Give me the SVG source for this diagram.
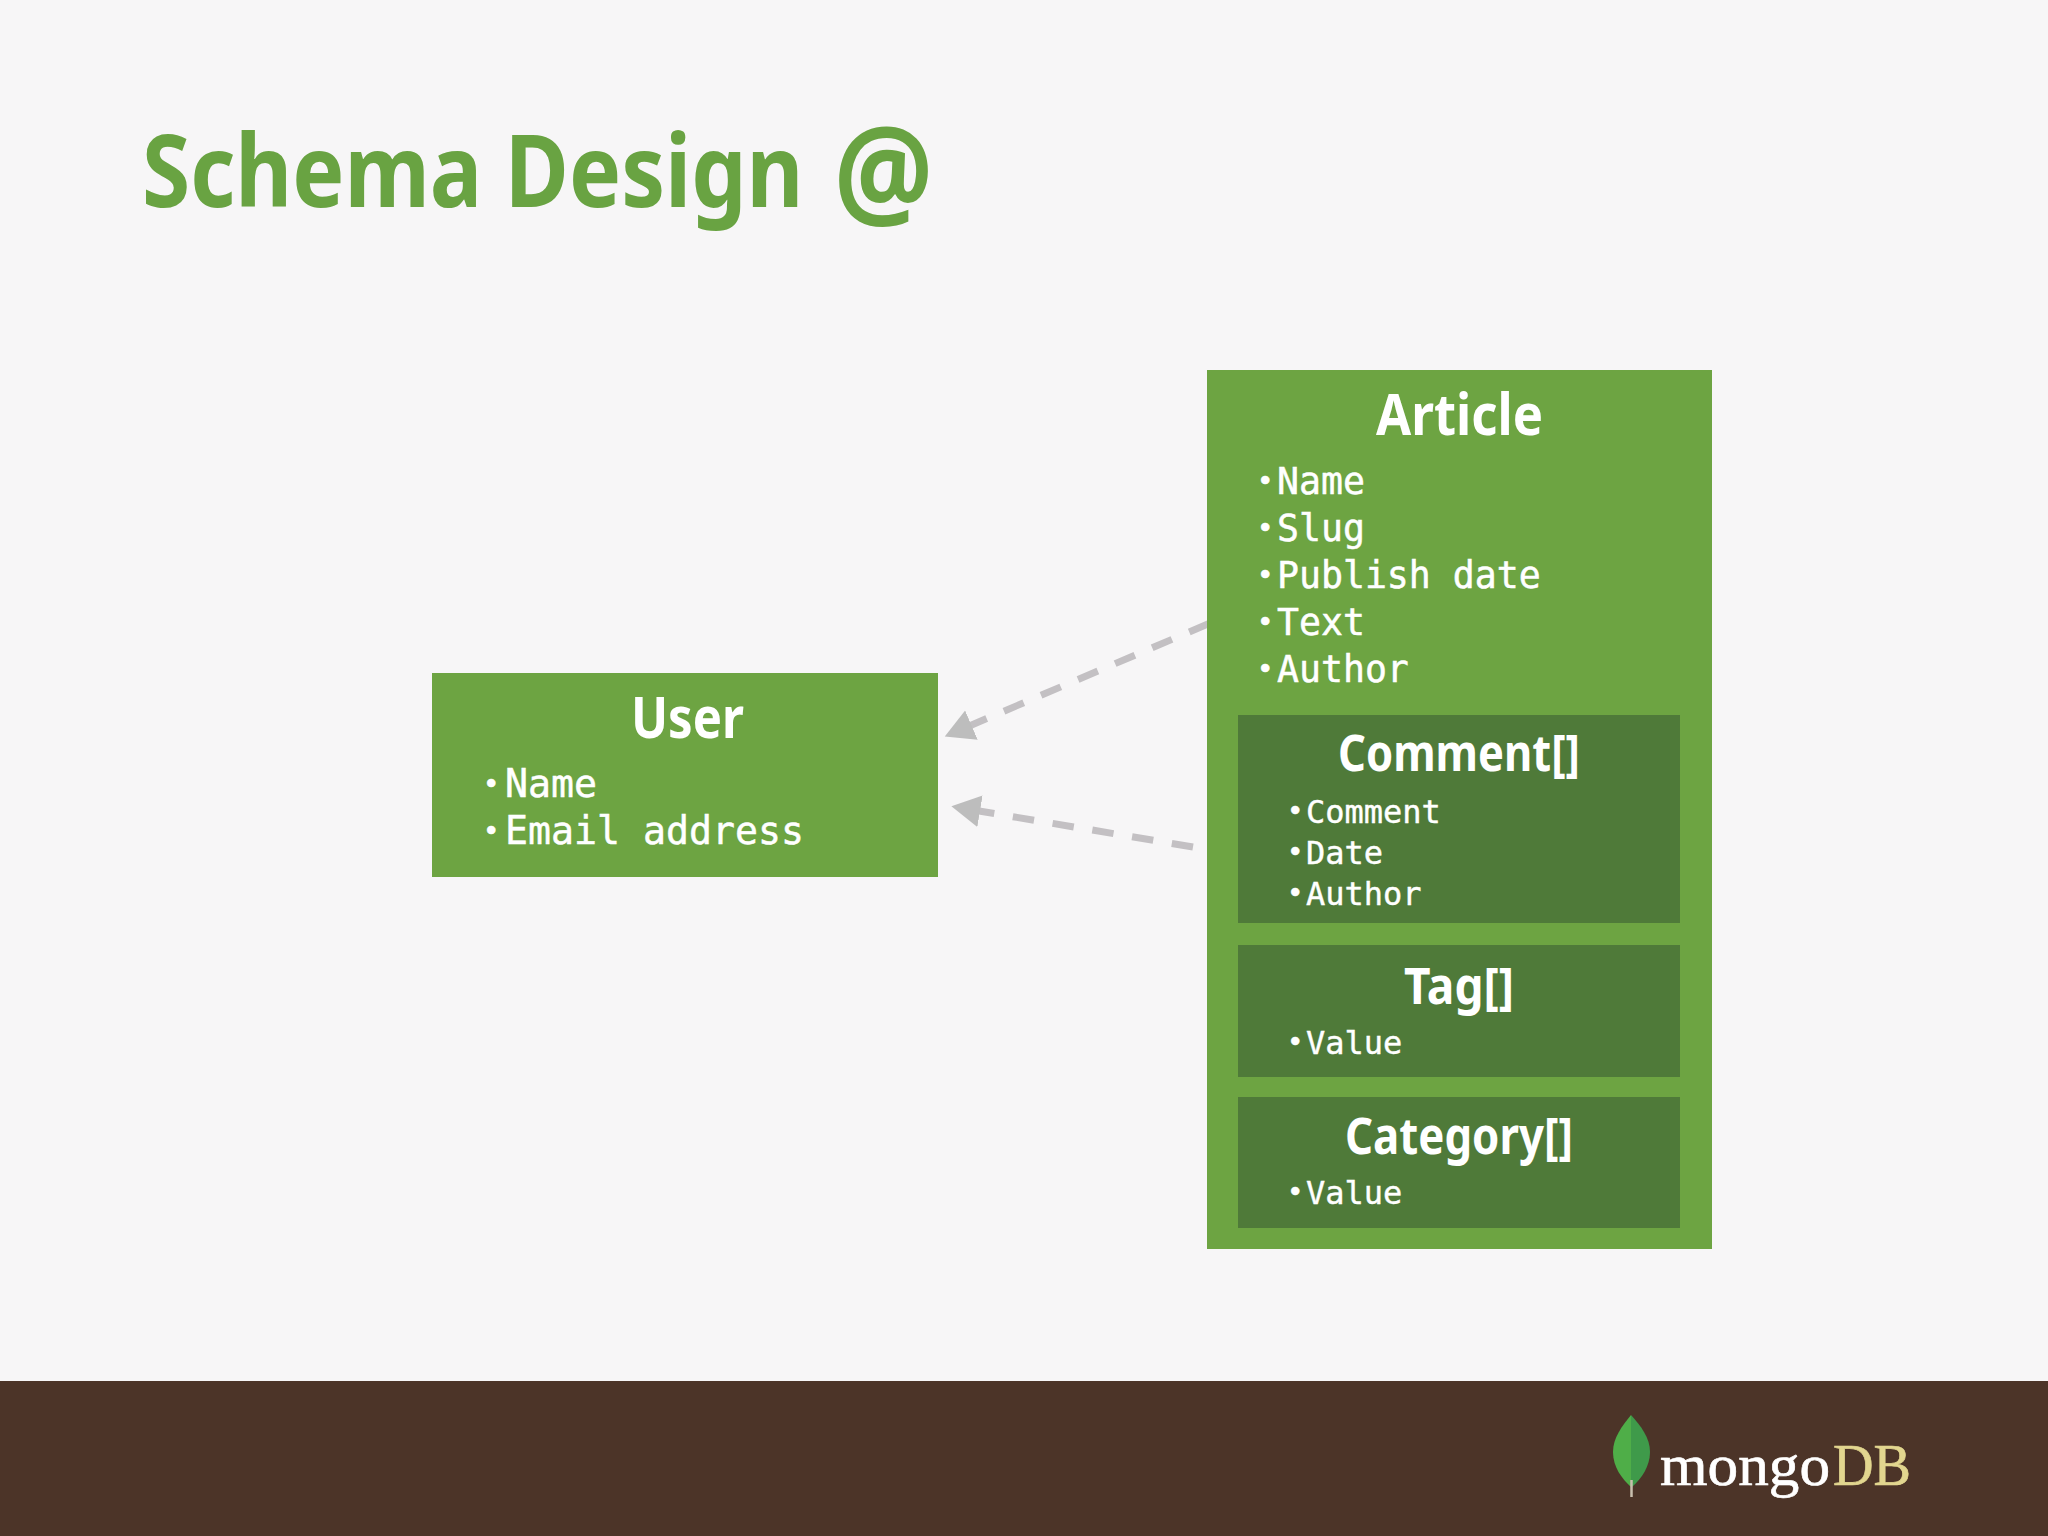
<svg xmlns="http://www.w3.org/2000/svg" width="2048" height="1536" viewBox="0 0 2048 1536">
<style>
.outer{fill:#6da442}
.inner{fill:#4f7a39}
.h{font-family:"Noto Sans","Open Sans",sans-serif;font-weight:700;fill:#fff}
.l{font-family:"DejaVu Sans Mono","Liberation Mono",monospace;font-size:36.5px;fill:#fff;stroke:#fff;stroke-width:.5px}
.u{font-size:38.2px}
.s{font-family:"DejaVu Sans Mono","Liberation Mono",monospace;font-size:32px;fill:#fff;stroke:#fff;stroke-width:.4px}
.b{font-family:"Liberation Sans",sans-serif;font-size:30px}
.c{fill:none;stroke:#c3c0c3;stroke-width:7;stroke-dasharray:21.5 18.8}
.logo{font-family:"Liberation Serif",serif;font-size:60px;stroke-width:.7px}
</style>
<defs>
<marker id="head" markerUnits="userSpaceOnUse" markerWidth="32" markerHeight="36" refX="1" refY="18" orient="auto"><path d="M0 2L29 18L0 34z" fill="#bdbdbd"/></marker>
</defs>
<rect width="2048" height="1536" fill="#f7f6f7"/>
<text id="title" transform="translate(142 207) scale(.875 1)" font-family="Noto Sans, Open Sans, sans-serif" font-weight="700" font-size="100" fill="#69a342">Schema Design <tspan dx="9" dy="10" font-size="126">@</tspan></text>
<g id="connectors">
<path class="c" d="M1209 623.5L970.5 725.5" marker-end="url(#head)"/>
<path class="c" d="M1193 847L979 811" marker-end="url(#head)"/>
</g>
<g id="user">
<rect class="outer" x="432" y="673" width="506" height="204"/>
<text class="h" x="631" y="738" font-size="58" textLength="113" lengthAdjust="spacingAndGlyphs">User</text>
<text class="l u" y="797"><tspan class="b" x="486" dy="-4">•</tspan><tspan x="505" dy="4">Name</tspan></text>
<text class="l u" y="844"><tspan class="b" x="486" dy="-4">•</tspan><tspan x="505" dy="4">Email address</tspan></text>
</g>
<g id="article">
<rect class="outer" x="1207" y="370" width="505" height="879"/>
<text class="h" x="1376" y="435" font-size="58" textLength="167" lengthAdjust="spacingAndGlyphs">Article</text>
<text class="l" y="494"><tspan class="b" x="1260" dy="-4">•</tspan><tspan x="1277" dy="4">Name</tspan></text>
<text class="l" y="541"><tspan class="b" x="1260" dy="-4">•</tspan><tspan x="1277" dy="4">Slug</tspan></text>
<text class="l" y="588"><tspan class="b" x="1260" dy="-4">•</tspan><tspan x="1277" dy="4">Publish date</tspan></text>
<text class="l" y="635"><tspan class="b" x="1260" dy="-4">•</tspan><tspan x="1277" dy="4">Text</tspan></text>
<text class="l" y="682"><tspan class="b" x="1260" dy="-4">•</tspan><tspan x="1277" dy="4">Author</tspan></text>
</g>
<g id="comment">
<rect class="inner" x="1238" y="715" width="442" height="208"/>
<text class="h" x="1338" y="771" font-size="50" textLength="242" lengthAdjust="spacingAndGlyphs">Comment[]</text>
<text class="s" y="823"><tspan class="b" x="1290" dy="-3">•</tspan><tspan x="1306" dy="3">Comment</tspan></text>
<text class="s" y="864"><tspan class="b" x="1290" dy="-3">•</tspan><tspan x="1306" dy="3">Date</tspan></text>
<text class="s" y="905"><tspan class="b" x="1290" dy="-3">•</tspan><tspan x="1306" dy="3">Author</tspan></text>
</g>
<g id="tag">
<rect class="inner" x="1238" y="945" width="442" height="132"/>
<text class="h" x="1404" y="1004" font-size="50" textLength="110" lengthAdjust="spacingAndGlyphs">Tag[]</text>
<text class="s" y="1054"><tspan class="b" x="1290" dy="-3">•</tspan><tspan x="1306" dy="3">Value</tspan></text>
</g>
<g id="category">
<rect class="inner" x="1238" y="1097" width="442" height="131"/>
<text class="h" x="1345" y="1154" font-size="50" textLength="228" lengthAdjust="spacingAndGlyphs">Category[]</text>
<text class="s" y="1204"><tspan class="b" x="1290" dy="-3">•</tspan><tspan x="1306" dy="3">Value</tspan></text>
</g>
<rect id="footer" y="1381" width="2048" height="155" fill="#4c3428"/>
<g id="logo">
<path d="M1631 1415C1622 1426 1613 1438 1613 1452C1613 1467 1622 1479 1631 1487Z" fill="#4fae48"/>
<path d="M1631 1415C1641 1426 1650 1438 1650 1452C1650 1466 1642 1478 1632 1487L1631 1487Z" fill="#3f9a4a"/>
<path d="M1631.5 1480V1497" stroke="#c9bfae" stroke-width="2.5"/>
<text class="logo" x="1660" y="1485" fill="#fff" stroke="#fff" textLength="170" lengthAdjust="spacingAndGlyphs">mongo</text>
<text class="logo" x="1833" y="1485" fill="#e2d68f" stroke="#e2d68f" textLength="78" lengthAdjust="spacingAndGlyphs">DB</text>
</g>
</svg>
